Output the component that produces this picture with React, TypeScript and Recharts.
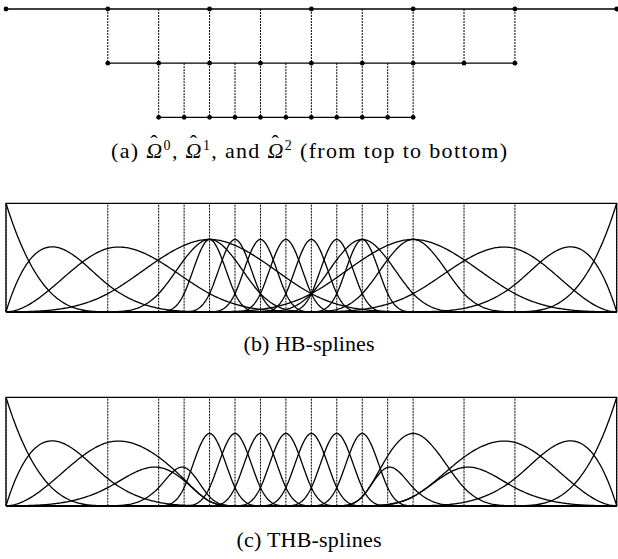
import React from "react";
import { LineChart, Line, XAxis, YAxis, ReferenceLine, ReferenceArea } from "recharts";

// cubic B-splines, dyadic refinement over [0, 6]
const DEGREE = 3;
const KNOTS_L0 = [0, 1, 2, 3, 4, 5, 6];
const KNOTS_L1 = [0, 0.5, 1, 1.5, 2, 2.5, 3, 3.5, 4, 4.5, 5, 5.5, 6];
const KNOTS_L2 = [
  0, 0.25, 0.5, 0.75, 1, 1.25, 1.5, 1.75, 2, 2.25, 2.5, 2.75, 3, 3.25, 3.5, 3.75, 4,
  4.25, 4.5, 4.75, 5, 5.25, 5.5, 5.75, 6,
];
// nested subdomains Omega^0 ⊃ Omega^1 ⊃ Omega^2
const OMEGA_L0 = [0, 6];
const OMEGA_L1 = [1, 5];
const OMEGA_L2 = [1.5, 4];

const CAPTION_A_PARTS = ["(a) ", ", ", ", and ", " (from top to bottom)"];
const CAPTION_A_LEVELS = ["0", "1", "2"];
const CAPTION_B = "(b) HB-splines";
const CAPTION_C = "(c) THB-splines";

const LEVEL_KNOTS = [KNOTS_L0, KNOTS_L1, KNOTS_L2];
const LEVEL_OMEGA = [OMEGA_L0, OMEGA_L1, OMEGA_L2];

const X0 = 6;
const X1 = 616.7;
const W = 618;

type Pt = { u: number; v: number };

const openKnots = (k: number[]) => [
  ...Array(DEGREE).fill(k[0]),
  ...k,
  ...Array(DEGREE).fill(k[k.length - 1]),
];

function basis(t: number[], i: number, p: number, u: number): number {
  if (p === 0) return t[i] <= u && u < t[i + 1] ? 1 : 0;
  let a = 0;
  let b = 0;
  const d1 = t[i + p] - t[i];
  const d2 = t[i + p + 1] - t[i + 1];
  if (d1 > 0) a = ((u - t[i]) / d1) * basis(t, i, p - 1, u);
  if (d2 > 0) b = ((t[i + p + 1] - u) / d2) * basis(t, i + 1, p - 1, u);
  return a + b;
}

function evalSpline(t: number[], c: number[], u: number) {
  const uu = Math.min(u, t[t.length - 1] - 1e-9);
  let s = 0;
  c.forEach((cj, j) => {
    if (cj !== 0) s += cj * basis(t, j, DEGREE, uu);
  });
  return s;
}

function insertKnot(t: number[], c: number[], x: number) {
  let k = 0;
  for (let i = 0; i < t.length - 1; i++) if (t[i] <= x && x < t[i + 1]) k = i;
  const nc: number[] = [];
  for (let i = 0; i <= c.length; i++) {
    if (i <= k - DEGREE) nc.push(c[i]);
    else if (i >= k + 1) nc.push(c[i - 1]);
    else {
      const a = (x - t[i]) / (t[i + DEGREE] - t[i]);
      nc.push(a * c[i] + (1 - a) * c[i - 1]);
    }
  }
  return { t: [...t.slice(0, k + 1), x, ...t.slice(k + 1)], c: nc };
}

function refine(level: number, c: number[]) {
  let t = openKnots(LEVEL_KNOTS[level]);
  let cc = c;
  LEVEL_KNOTS[level + 1]
    .filter((x) => !LEVEL_KNOTS[level].includes(x))
    .forEach((x) => {
      const r = insertKnot(t, cc, x);
      t = r.t;
      cc = r.c;
    });
  return cc;
}

const inside = (t: number[], j: number, om: number[]) =>
  t[j] >= om[0] && t[j + DEGREE + 1] <= om[1];

const U_SAMPLES = Array.from({ length: 481 }, (_, i) => (i * 6) / 480);

function sample(t: number[], c: number[]): Pt[] {
  return U_SAMPLES.map((u) => ({ u, v: evalSpline(t, c, u) }));
}

function buildCurves(truncated: boolean): Pt[][] {
  const out: Pt[][] = [];
  const L = LEVEL_KNOTS.length;
  for (let l = 0; l < L; l++) {
    const t = openKnots(LEVEL_KNOTS[l]);
    const n = t.length - DEGREE - 1;
    for (let j = 0; j < n; j++) {
      if (!inside(t, j, LEVEL_OMEGA[l])) continue;
      if (l + 1 < L && inside(t, j, LEVEL_OMEGA[l + 1])) continue;
      let c = Array.from({ length: n }, (_, i) => (i === j ? 1 : 0));
      let lev = l;
      if (truncated) {
        while (lev + 1 < L) {
          c = refine(lev, c);
          lev++;
          const tt = openKnots(LEVEL_KNOTS[lev]);
          c = c.map((cj, i) => (inside(tt, i, LEVEL_OMEGA[lev]) ? 0 : cj));
        }
      }
      out.push(sample(openKnots(LEVEL_KNOTS[lev]), c));
    }
  }
  return out;
}

const HB_CURVES = buildCurves(false);
const THB_CURVES = buildCurves(true);

const ALL_LINES = Array.from(
  new Set([...KNOTS_L0, ...KNOTS_L1.filter((k) => k >= OMEGA_L1[0] && k <= OMEGA_L1[1]),
    ...KNOTS_L2.filter((k) => k >= OMEGA_L2[0] && k <= OMEGA_L2[1])])
).sort((a, b) => a - b);

function MeshPanel() {
  const levels = LEVEL_KNOTS.map((k, l) =>
    k.filter((x) => x >= LEVEL_OMEGA[l][0] && x <= LEVEL_OMEGA[l][1]).map((x) => ({ u: x, v: l }))
  );
  const connectors: Pt[][] = [];
  for (let l = 1; l < levels.length; l++) {
    levels[l].forEach((p) => connectors.push([{ u: p.u, v: l - 1 }, { u: p.u, v: l }]));
  }
  return (
    <LineChart width={W} height={130} margin={{ top: 9, bottom: 12.7, left: X0, right: W - X1 }}>
      <XAxis type="number" dataKey="u" domain={[0, 6]} hide />
      <YAxis type="number" dataKey="v" domain={[0, 2]} reversed hide />
      {connectors.map((seg, i) => (
        <Line key={"c" + i} data={seg} dataKey="v" stroke="#000" strokeWidth={1}
          strokeDasharray="2 1" dot={false} isAnimationActive={false} />
      ))}
      {levels.map((pts, i) => (
        <Line key={"l" + i} data={pts} dataKey="v" stroke="#000" strokeWidth={1.3}
          dot={{ r: 2.4, fill: "#000", stroke: "none" }} isAnimationActive={false} />
      ))}
    </LineChart>
  );
}

function SplinePanel({ curves, top, bottom }: { curves: Pt[][]; top: number; bottom: number }) {
  return (
    <LineChart width={W} height={130} margin={{ top, bottom, left: X0, right: W - X1 }}>
      <XAxis type="number" dataKey="u" domain={[0, 6]} hide />
      <YAxis type="number" dataKey="v" domain={[0, 1]} hide />
      {ALL_LINES.map((x) => (
        <ReferenceLine key={x} x={x} stroke="#000" strokeWidth={1} strokeDasharray="2 1" />
      ))}
      <ReferenceArea x1={0} x2={6} y1={0} y2={1} fill="none" stroke="#000" strokeWidth={1.2} fillOpacity={0} />
      {curves.map((pts, i) => (
        <Line key={i} data={pts} dataKey="v" stroke="#000" strokeWidth={1.3} dot={false}
          isAnimationActive={false} />
      ))}
    </LineChart>
  );
}

const FONT = "'Liberation Serif', 'Times New Roman', serif";
const FS = 22;

// italic Omega with a hat, then a superscript level number
function HatOmega({ level }: { level: string }) {
  return (
    <>
      <tspan fontStyle="italic">Ω</tspan>
      <tspan dx={-13.2} dy={-8}>ˆ</tspan>
      <tspan dx={4.6} fontSize={14}>{level}</tspan>
    </>
  );
}

export default function App() {
  return (
    <div style={{ position: "absolute", left: 0, top: 0, width: W, height: 559, background: "#fff" }}>
      <div style={{ position: "absolute", left: 0, top: 0 }}>
        <MeshPanel />
      </div>
      <div style={{ position: "absolute", left: 0, top: 190 }}>
        <SplinePanel curves={HB_CURVES} top={13.3} bottom={8.3} />
      </div>
      <div style={{ position: "absolute", left: 0, top: 384 }}>
        <SplinePanel curves={THB_CURVES} top={13.3} bottom={8.3} />
      </div>
      <svg width={W} height={559} style={{ position: "absolute", left: 0, top: 0, pointerEvents: "none" }}>
        <text x={309} y={158} textAnchor="middle" fontFamily={FONT} fontSize={FS} fill="#000"
          textLength={396} lengthAdjust="spacing">
          <tspan>{CAPTION_A_PARTS[0]}</tspan>
          <HatOmega level={CAPTION_A_LEVELS[0]} />
          <tspan dy={8}>{CAPTION_A_PARTS[1]}</tspan>
          <HatOmega level={CAPTION_A_LEVELS[1]} />
          <tspan dy={8}>{CAPTION_A_PARTS[2]}</tspan>
          <HatOmega level={CAPTION_A_LEVELS[2]} />
          <tspan dy={8}>{CAPTION_A_PARTS[3]}</tspan>
        </text>
        <text x={309} y={351} textAnchor="middle" fontFamily={FONT} fontSize={FS} fill="#000"
          textLength={131} lengthAdjust="spacing">
          {CAPTION_B}
        </text>
        <text x={309} y={547} textAnchor="middle" fontFamily={FONT} fontSize={FS} fill="#000"
          textLength={145} lengthAdjust="spacing">
          {CAPTION_C}
        </text>
      </svg>
    </div>
  );
}
